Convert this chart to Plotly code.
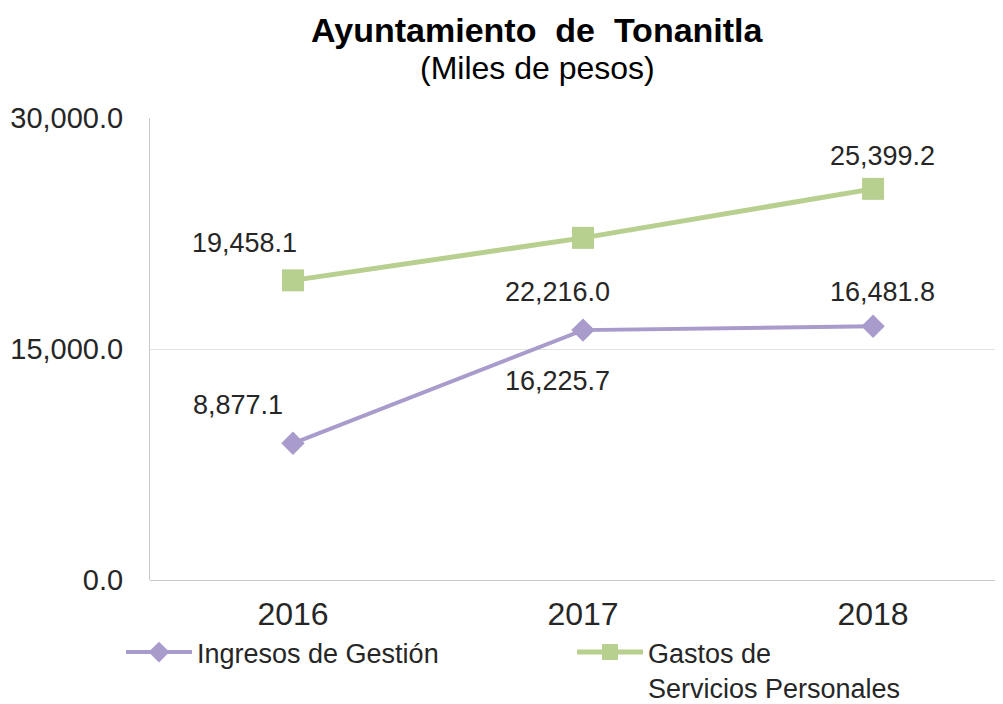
import plotly.graph_objects as go

years = ["2016", "2017", "2018"]
ingresos = [8877.1, 16225.7, 16481.8]
gastos = [19458.1, 22216.0, 25399.2]
ingresos_labels = ["8,877.1", "16,225.7", "16,481.8"]
gastos_labels = ["19,458.1", "22,216.0", "25,399.2"]

purple = "#A99BCB"
green = "#B7CF8F"
font = "Liberation Sans, Arial, sans-serif"
txt = "#262626"

# page has an 8px body margin, so the figure is drawn 8px smaller
W, H = 995, 696
L, T, PH = 142, 110, 462
B = H - T - PH


def py(pix):
    # reference pixel row (page coords) -> paper y
    return (T + 8 + PH - pix) / PH


def px(pix):
    return (pix - 8 - L) / (W - L)


fig = go.Figure()
fig.add_trace(go.Scatter(
    x=years, y=ingresos, name="Ingresos de Gestión", mode="lines+markers",
    line=dict(color=purple, width=4),
    marker=dict(symbol="diamond", size=18, color=purple),
))
fig.add_trace(go.Scatter(
    x=years, y=gastos, name="Gastos de<br>Servicios Personales", mode="lines+markers",
    line=dict(color=green, width=5),
    marker=dict(symbol="square", size=22, color=green),
))

g_shift = [(-48, 37), (-26, -54), (9, 33)]
i_shift = [(-55, 38), (-26, -51), (9, 34)]
for k in range(3):
    fig.add_annotation(x=k, y=gastos[k], text=gastos_labels[k], showarrow=False,
                       xshift=g_shift[k][0], yshift=g_shift[k][1],
                       font=dict(family=font, size=27, color=txt))
    fig.add_annotation(x=k, y=ingresos[k], text=ingresos_labels[k], showarrow=False,
                       xshift=i_shift[k][0], yshift=i_shift[k][1],
                       font=dict(family=font, size=27, color=txt))

fig.add_annotation(xref="paper", yref="paper", x=px(537), y=py(30),
                   xanchor="center", yanchor="middle",
                   text="<b>Ayuntamiento&nbsp; de&nbsp; Tonanitla</b>", showarrow=False,
                   font=dict(family=font, size=34, color="#000000"))
fig.add_annotation(xref="paper", yref="paper", x=px(537), y=py(68),
                   xanchor="center", yanchor="middle",
                   text="(Miles de pesos)", showarrow=False,
                   font=dict(family=font, size=32, color="#000000"))

fig.update_layout(
    width=W, height=H,
    margin=dict(l=L, r=0, t=T, b=B, autoexpand=False),
    paper_bgcolor="white", plot_bgcolor="white",
    font=dict(family=font, color=txt),
    showlegend=True,
    legend=dict(orientation="h", x=px(121), xanchor="left", y=py(628), yanchor="top",
                entrywidth=370, entrywidthmode="pixels", valign="top",
                font=dict(family=font, size=27, color=txt), itemwidth=66,
                tracegroupgap=0),
    xaxis=dict(type="category", range=[-0.493, 2.448], showgrid=False,
               showline=False, ticks="", ticklabelstandoff=12,
               tickfont=dict(family=font, size=32, color=txt),
               zeroline=False),
    yaxis=dict(range=[0, 30000], dtick=15000, tickformat=",.1f",
               showgrid=True, gridcolor="#E3E3E3", gridwidth=1,
               showline=True, linecolor="#C8C8C8", linewidth=1,
               zeroline=True, zerolinecolor="#C8C8C8", zerolinewidth=1,
               ticks="", ticklabelstandoff=20,
               tickfont=dict(family=font, size=29, color=txt)),
)

fig.write_html("out.html")
